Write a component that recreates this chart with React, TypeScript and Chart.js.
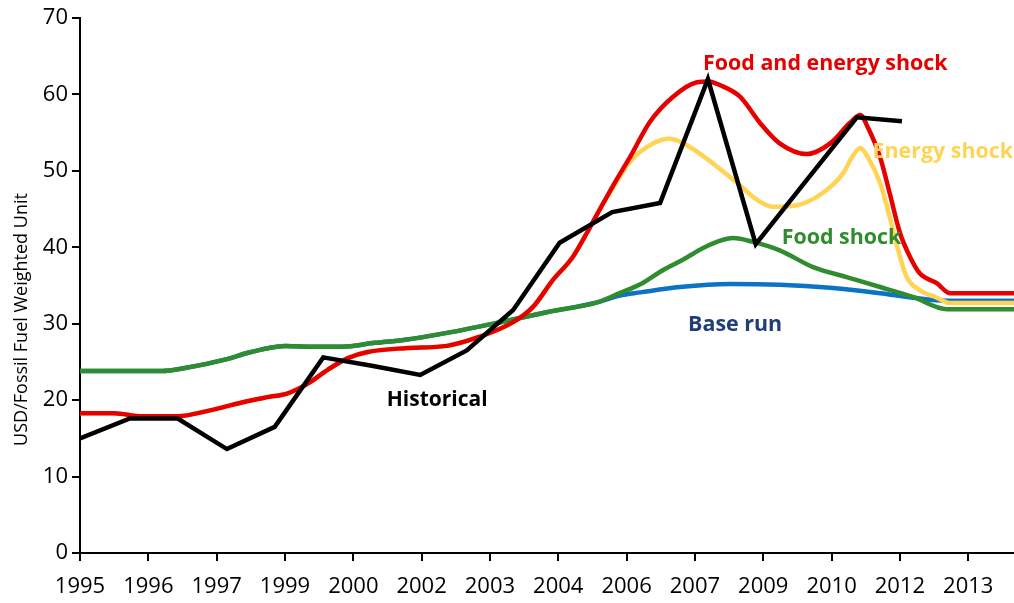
import React, { useEffect, useRef } from "react";
import { Chart, registerables } from "chart.js";

Chart.register(...registerables);

// Tick labels (one per x-axis tick, period index 0..13)
const xLabels = ["1995", "1996", "1997", "1999", "2000", "2002", "2003", "2004", "2006", "2007", "2009", "2010", "2012", "2013"];

// Historical (x in tick-period units)
const histX = [0, 0.73, 1.43, 2.15, 2.85, 3.56, 4.27, 4.98, 5.66, 6.34, 7.02, 7.79, 8.49, 9.19, 9.89, 10.6, 11.37, 12.03];
const histY = [15.0, 17.6, 17.6, 13.6, 16.5, 25.6, 24.5, 23.3, 26.5, 31.8, 40.6, 44.6, 45.8, 62.0, 40.4, 48.4, 57.0, 56.5];

// Food and energy shock
const foodEnergyX = [0, 0.5, 0.9, 1.43, 1.87, 2.37, 2.75, 3.04, 3.34, 3.63, 3.92, 4.21, 4.76, 5.37, 5.85, 6.34, 6.63, 6.92, 7.21, 7.42, 7.61, 7.83, 8.05, 8.34, 8.68, 9.03, 9.2, 9.37, 9.66, 9.95, 10.24, 10.64, 10.98, 11.27, 11.42, 11.53, 11.71, 11.85, 12.0, 12.15, 12.29, 12.54, 12.73, 13.7];
const foodEnergyY = [18.3, 18.3, 17.9, 17.9, 18.6, 19.7, 20.4, 20.9, 22.2, 24.0, 25.5, 26.3, 26.8, 27.1, 28.3, 30.2, 32.2, 35.7, 38.7, 41.9, 45.0, 48.5, 51.8, 56.4, 59.7, 61.6, 61.7, 61.2, 59.7, 56.3, 53.6, 52.2, 53.6, 56.3, 57.3, 55.7, 51.8, 47.1, 41.9, 38.7, 36.6, 35.3, 34.0, 34.0];

// Energy shock
const energyX = [0, 0.5, 0.9, 1.43, 1.87, 2.37, 2.75, 3.04, 3.34, 3.63, 3.92, 4.21, 4.76, 5.37, 5.85, 6.34, 6.63, 6.92, 7.21, 7.42, 7.61, 7.83, 8.05, 8.39, 8.63, 8.93, 9.26, 9.62, 9.91, 10.14, 10.49, 10.87, 11.17, 11.3, 11.42, 11.53, 11.71, 11.85, 11.96, 12.1, 12.29, 12.54, 12.73, 13.7];
const energyY = [18.3, 18.3, 17.9, 17.9, 18.6, 19.7, 20.4, 20.9, 22.2, 24.0, 25.5, 26.3, 26.8, 27.1, 28.3, 30.2, 32.2, 35.7, 38.7, 41.9, 45.0, 48.2, 51.2, 53.6, 54.2, 53.1, 51.0, 48.4, 46.2, 45.3, 45.5, 47.1, 49.7, 51.8, 53.0, 51.8, 48.4, 44.0, 40.1, 36.1, 34.4, 33.4, 32.7, 32.7];

// Food shock
const foodX = [0, 1.2, 1.54, 2.12, 2.46, 2.75, 3.0, 3.34, 3.83, 4.32, 4.76, 5.37, 6.1, 6.83, 7.57, 7.9, 8.23, 8.53, 8.83, 9.12, 9.35, 9.56, 9.85, 10.24, 10.73, 11.22, 11.71, 12.19, 12.69, 13.7];
const foodY = [23.8, 23.8, 24.2, 25.3, 26.2, 26.8, 27.1, 27.0, 27.0, 27.5, 27.9, 28.8, 30.1, 31.5, 32.8, 34.0, 35.3, 37.0, 38.4, 39.9, 40.8, 41.2, 40.7, 39.6, 37.4, 36.1, 34.8, 33.5, 31.9, 31.9];

// Base run
const baseX = [0, 1.2, 1.54, 2.12, 2.46, 2.75, 3.0, 3.34, 3.83, 4.32, 4.76, 5.37, 6.1, 6.83, 7.57, 7.9, 8.2, 8.78, 9.51, 10.24, 10.98, 11.71, 12.19, 12.69, 13.7];
const baseY = [23.8, 23.8, 24.2, 25.3, 26.2, 26.8, 27.1, 27.0, 27.0, 27.5, 27.9, 28.8, 30.1, 31.5, 32.8, 33.7, 34.1, 34.8, 35.2, 35.1, 34.7, 34.0, 33.4, 33.0, 33.0];

const RED = "#E60000";
const YELLOW = "#FFD454";
const GREEN = "#2F8C2F";
const BLUE = "#0B72C6";
const BLACK = "#000000";

// In-chart series labels (data coordinates, left-aligned)
const seriesLabels = [
  { text: "Food and energy shock", x: 9.12, y: 64.0, color: RED, size: 21.4 },
  { text: "Energy shock", x: 11.6, y: 52.5, color: YELLOW, size: 21.4 },
  { text: "Food shock", x: 10.27, y: 41.2, color: GREEN, size: 21.4 },
  { text: "Base run", x: 8.9, y: 29.8, color: "#1F3E78", size: 21.4 },
  { text: "Historical", x: 4.49, y: 20.0, color: BLACK, size: 21 },
];

const yTitle = "USD/Fossil Fuel Weighted Unit";
const FONT = "'Open Sans', sans-serif";

const zip = (xs: number[], ys: number[]) => xs.map((x, i) => ({ x, y: ys[i] }));

const labelPlugin = {
  id: "seriesLabels",
  afterDatasetsDraw(chart: any) {
    const ctx = chart.ctx;
    const xs = chart.scales.x;
    const ys = chart.scales.y;
    ctx.save();
    ctx.textAlign = "left";
    ctx.textBaseline = "middle";
    for (const l of seriesLabels) {
      ctx.font = `bold ${l.size}px ${FONT}`;
      ctx.fillStyle = l.color;
      ctx.fillText(l.text, xs.getPixelForValue(l.x), ys.getPixelForValue(l.y));
    }
    // y-axis title
    ctx.translate(27, (ys.getPixelForValue(0) + ys.getPixelForValue(70)) / 2 + 34);
    ctx.rotate(-Math.PI / 2);
    ctx.textAlign = "center";
    ctx.textBaseline = "alphabetic";
    ctx.font = `18px ${FONT}`;
    ctx.fillStyle = "#000";
    ctx.fillText(yTitle, 0, 0);
    ctx.restore();
  },
};

export default function App() {
  const ref = useRef<HTMLCanvasElement>(null);
  useEffect(() => {
    const common = { pointRadius: 0, borderWidth: 4.5, fill: false, cubicInterpolationMode: "monotone" as const };
    const chart = new Chart(ref.current!, {
      type: "line",
      data: {
        datasets: [
          { label: "Historical", data: zip(histX, histY), borderColor: BLACK, pointRadius: 0, borderWidth: 4.5, fill: false, tension: 0 },
          { label: "Food and energy shock", data: zip(foodEnergyX, foodEnergyY), borderColor: RED, ...common },
          { label: "Food shock", data: zip(foodX, foodY), borderColor: GREEN, ...common },
          { label: "Energy shock", data: zip(energyX, energyY), borderColor: YELLOW, ...common },
          { label: "Base run", data: zip(baseX, baseY), borderColor: BLUE, ...common },
        ],
      },
      options: {
        animation: false,
        responsive: false,
        devicePixelRatio: 1,
        layout: { padding: { top: 18, right: 0, bottom: 0, left: 0 } },
        plugins: { legend: { display: false }, tooltip: { enabled: false } },
        scales: {
          x: {
            type: "linear",
            min: 0,
            max: 13.67,
            afterBuildTicks: (s: any) => {
              s.ticks = xLabels.map((_, i) => ({ value: i }));
            },
            afterFit: (s: any) => {
              s.height = 50;
            },
            ticks: {
              stepSize: 1,
              includeBounds: false,
              autoSkip: false,
              maxRotation: 0,
              callback: (v: any) => xLabels[v] ?? "",
              font: { family: FONT, size: 22 },
              color: "#000",
              padding: 13,
            },
            grid: { drawOnChartArea: false, color: "#000", lineWidth: 2, tickLength: 8 },
            border: { color: "#000", width: 2 },
          },
          y: {
            min: 0,
            max: 70,
            afterFit: (s: any) => {
              s.width = 80;
            },
            ticks: {
              stepSize: 10,
              font: { family: FONT, size: 22 },
              color: "#000",
              padding: 4,
            },
            grid: { drawOnChartArea: false, color: "#000", lineWidth: 2, tickLength: 8 },
            border: { color: "#000", width: 2 },
          },
        },
      },
      plugins: [labelPlugin],
    });
    return () => chart.destroy();
  }, []);
  return (
    <div style={{ position: "fixed", left: 0, top: 0, width: 1014, height: 603, background: "#fff" }}>
      <canvas ref={ref} width={1014} height={603} />
    </div>
  );
}
